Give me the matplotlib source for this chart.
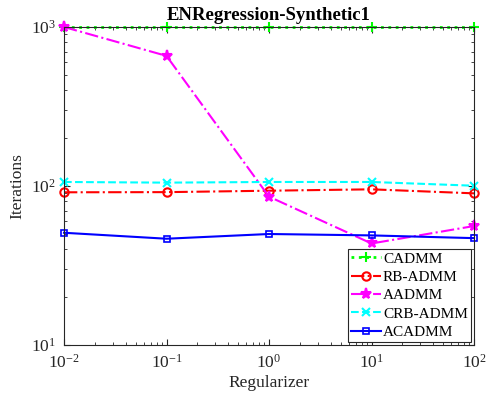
import numpy as np
import matplotlib.pyplot as plt

regularizer = [1e-2, 1e-1, 1e0, 1e1, 1e2]
cadmm = [1000, 1000, 1000, 1000, 1000]
rb_admm = [91.3, 91.5, 93.4, 95.3, 89.9]
aadmm = [1000, 658, 85.7, 43.5, 56]
crb_admm = [106, 105, 106, 106, 100.4]
acadmm = [50.8, 46.6, 49.9, 48.9, 47.0]

plt.rcParams['font.family'] = ['Liberation Serif', 'DejaVu Serif']
plt.rcParams['mathtext.fontset'] = 'stix'

fig = plt.figure(figsize=(4.87, 3.99), dpi=100)
ax = fig.add_axes([64 / 487, 1 - 345 / 399, 410 / 487, 318 / 399])

ax.plot(regularizer, cadmm, ':', color=(0, 1, 0), marker='+', ms=7, mew=1.5, lw=2, label='CADMM', clip_on=False)
ax.plot(regularizer, rb_admm, '-.', color='red', marker='o', ms=6, mfc='none', mew=1.5, lw=1.5, label='RB-ADMM', clip_on=False)
ax.plot(regularizer, aadmm, '-.', color='magenta', marker='*', ms=8, mew=1.5, lw=1.5, label='AADMM', clip_on=False)
ax.plot(regularizer, crb_admm, '--', color='cyan', marker='x', ms=6, mew=1.5, lw=1.5, label='CRB-ADMM', clip_on=False)
ax.plot(regularizer, acadmm, '-', color='blue', marker='s', ms=5, mfc='none', mew=1.2, lw=1.5, label='ACADMM', clip_on=False)

ax.set_xscale('log')
ax.set_yscale('log')
ax.set_xlim(1e-2, 1e2)
ax.set_ylim(10, 1000)
ax.tick_params(which='both', direction='in', top=True, right=True, labelsize=12.5, colors='#262626')
ax.tick_params(which='major', length=4, pad=6)
ax.tick_params(which='minor', length=2)
for s in ax.spines.values():
    s.set_color('#262626')

ax.set_xlabel('Regularizer', fontsize=12.5, color='#262626', labelpad=3)
ax.set_ylabel('Iterations', fontsize=12.5, color='#262626')
ax.set_title('ENRegression-Synthetic1', fontsize=13.5, fontweight='bold', pad=5)

leg = ax.legend(loc='lower right', fontsize=11, fancybox=False, framealpha=1,
                edgecolor='#262626', handlelength=2, handletextpad=0.1,
                borderpad=0.2, labelspacing=0.3, borderaxespad=0.2)
leg.get_frame().set_linewidth(0.8)

fig.savefig('out.png', dpi=100)
